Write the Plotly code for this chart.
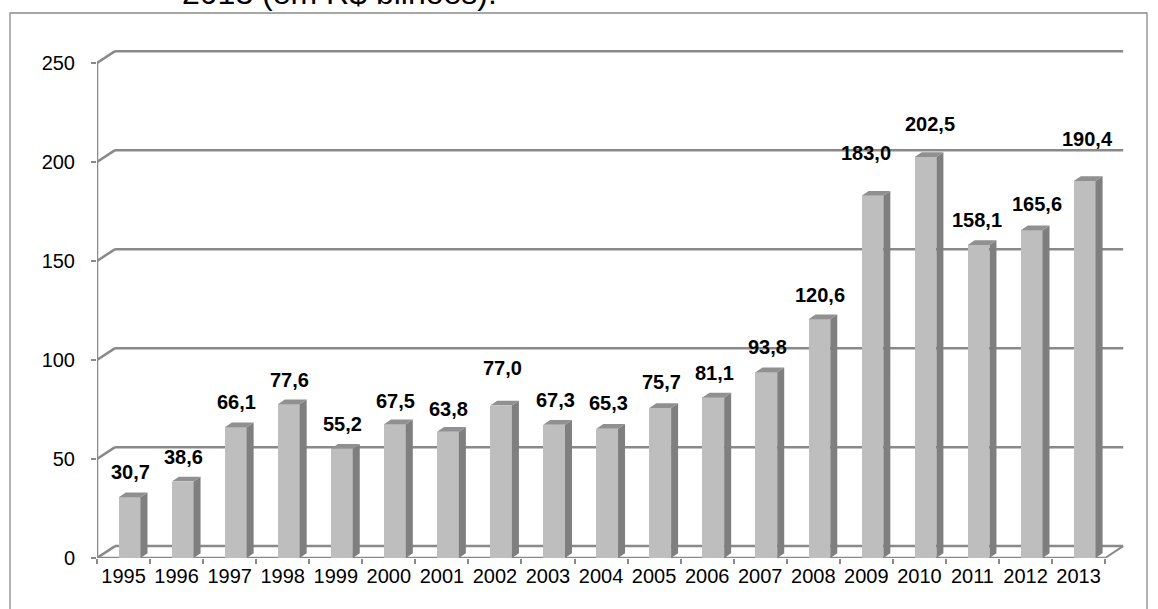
import plotly.graph_objects as go

# Annual values (R$ bilhões), 1995-2013
years = ["1995", "1996", "1997", "1998", "1999", "2000", "2001", "2002", "2003", "2004",
         "2005", "2006", "2007", "2008", "2009", "2010", "2011", "2012", "2013"]
values = [30.7, 38.6, 66.1, 77.6, 55.2, 67.5, 63.8, 77.0, 67.3, 65.3,
          75.7, 81.1, 93.8, 120.6, 183.0, 202.5, 158.1, 165.6, 190.4]
y_ticks = [0, 50, 100, 150, 200, 250]

# label nudges in pixels (vertical lift above the bar top, horizontal shift)
label_lift = [25, 25, 25, 24, 25, 23, 23, 38, 25, 26, 26, 24, 25, 24, 43, 33, 25, 26, 42]
label_dx = [1, 1, 1, 1, 1, 1, 1, 1, 1, 1, 1, 1, 1, 1, -6, 4, -2, 5, 3]

# ---- geometry of the pseudo-3D frame (data units) ----
X_MAX = 19.45
Y_MAX = 258.6
WALL_DX = 0.34      # depth offset of the back wall
WALL_DY = 6.0
FACE_L = 0.41       # front face of each column, relative to category start
FACE_W = 0.41
SIDE_DX = 0.132     # column depth
SIDE_DY = 2.4

GRID = "#898989"
n = len(values)

shapes = []
# back wall gridlines with the left-wall diagonals
for v in y_ticks:
    shapes.append(dict(type="line", xref="x", yref="y", x0=0, y0=v, x1=WALL_DX, y1=v + WALL_DY,
                       line=dict(color=GRID, width=2.5), layer="below"))
    shapes.append(dict(type="line", xref="x", yref="y", x0=WALL_DX, y0=v + WALL_DY, x1=n + WALL_DX,
                       y1=v + WALL_DY, line=dict(color=GRID, width=2.5), layer="below"))
# floor right edge and front edge, front vertical axis
shapes.append(dict(type="line", xref="x", yref="y", x0=n, y0=0, x1=n + WALL_DX, y1=WALL_DY,
                   line=dict(color=GRID, width=2), layer="below"))
shapes.append(dict(type="line", xref="x", yref="y", x0=0, y0=0, x1=n, y1=0,
                   line=dict(color=GRID, width=2.5), layer="below"))
shapes.append(dict(type="line", xref="x", yref="y", x0=0, y0=0, x1=0, y1=y_ticks[-1],
                   line=dict(color=GRID, width=2.5), layer="below"))

# outer chart frame
L, R, T, B = 97, 29, 46, 51
W, H = 1158, 609
pw, ph = W - L - R, H - T - B


def px_x(p):
    return (p - L) / pw


def px_y(p):
    return (H - B - p) / ph


shapes.append(dict(type="rect", xref="paper", yref="paper", x0=px_x(10), x1=px_x(1147),
                   y0=px_y(700), y1=px_y(13), line=dict(color="#8a8a8a", width=1.3),
                   fillcolor="rgba(0,0,0,0)", layer="below"))

fig = go.Figure()

# front faces of the columns
fig.add_trace(go.Bar(
    x=[i + FACE_L + FACE_W / 2 for i in range(n)], y=values, width=FACE_W,
    marker=dict(color="#bebebe", line=dict(width=0)), hoverinfo="skip", showlegend=False,
))

# side and top faces
side_x, side_y, top_x, top_y = [], [], [], []
for i, v in enumerate(values):
    xl = i + FACE_L
    xr = xl + FACE_W
    side_x += [xr, xr + SIDE_DX, xr + SIDE_DX, xr, xr, None]
    side_y += [0, SIDE_DY, v + SIDE_DY, v, 0, None]
    top_x += [xl, xr, xr + SIDE_DX, xl + SIDE_DX, xl, None]
    top_y += [v, v, v + SIDE_DY, v + SIDE_DY, v, None]

fig.add_trace(go.Scatter(x=side_x, y=side_y, mode="lines", fill="toself", fillcolor="#7f7f7f",
                         line=dict(width=0, color="#7f7f7f"), hoverinfo="skip", showlegend=False))
fig.add_trace(go.Scatter(x=top_x, y=top_y, mode="lines", fill="toself", fillcolor="#909090",
                         line=dict(width=0, color="#909090"), hoverinfo="skip", showlegend=False))

FONT = "Arial, Liberation Sans, sans-serif"
annotations = []
for i, v in enumerate(values):
    annotations.append(dict(
        x=i + FACE_L + FACE_W / 2, y=v, xref="x", yref="y",
        text="<b>" + f"{v:.1f}".replace(".", ",") + "</b>",
        showarrow=False, xanchor="center", yanchor="middle",
        xshift=label_dx[i], yshift=label_lift[i],
        font=dict(family=FONT, size=20, color="#000000"),
    ))

# caption line above the frame
annotations.append(dict(
    x=px_x(180), y=px_y(13), xref="paper", yref="paper", text="2013 (em R$ bilhões).",
    showarrow=False, xanchor="left", yanchor="bottom",
    font=dict(family=FONT, size=32, color="#000000"),
))

fig.update_layout(
    width=W, height=H,
    margin=dict(l=L, r=R, t=T, b=B, pad=0),
    paper_bgcolor="white", plot_bgcolor="white",
    shapes=shapes, annotations=annotations,
    bargap=0, showlegend=False,
    xaxis=dict(
        range=[0, X_MAX], tickmode="array",
        tickvals=[i + 0.5 for i in range(n)], ticktext=years,
        ticks="", ticklen=5, showgrid=False, zeroline=False, showline=False,
        tickfont=dict(family=FONT, size=20, color="#000000"),
        ticklabelstandoff=4,
        minor=dict(tickmode="array", tickvals=list(range(n + 1)), ticks="outside", ticklen=5,
                   tickwidth=2, tickcolor=GRID, showgrid=False),
        fixedrange=True,
    ),
    yaxis=dict(
        range=[0, Y_MAX], tickmode="array", tickvals=y_ticks,
        ticks="outside", ticklen=5, tickwidth=2, tickcolor=GRID,
        showgrid=False, zeroline=False, showline=False,
        tickfont=dict(family=FONT, size=20, color="#000000"),
        ticklabelstandoff=12, fixedrange=True,
    ),
)

fig.write_html("out.html")
